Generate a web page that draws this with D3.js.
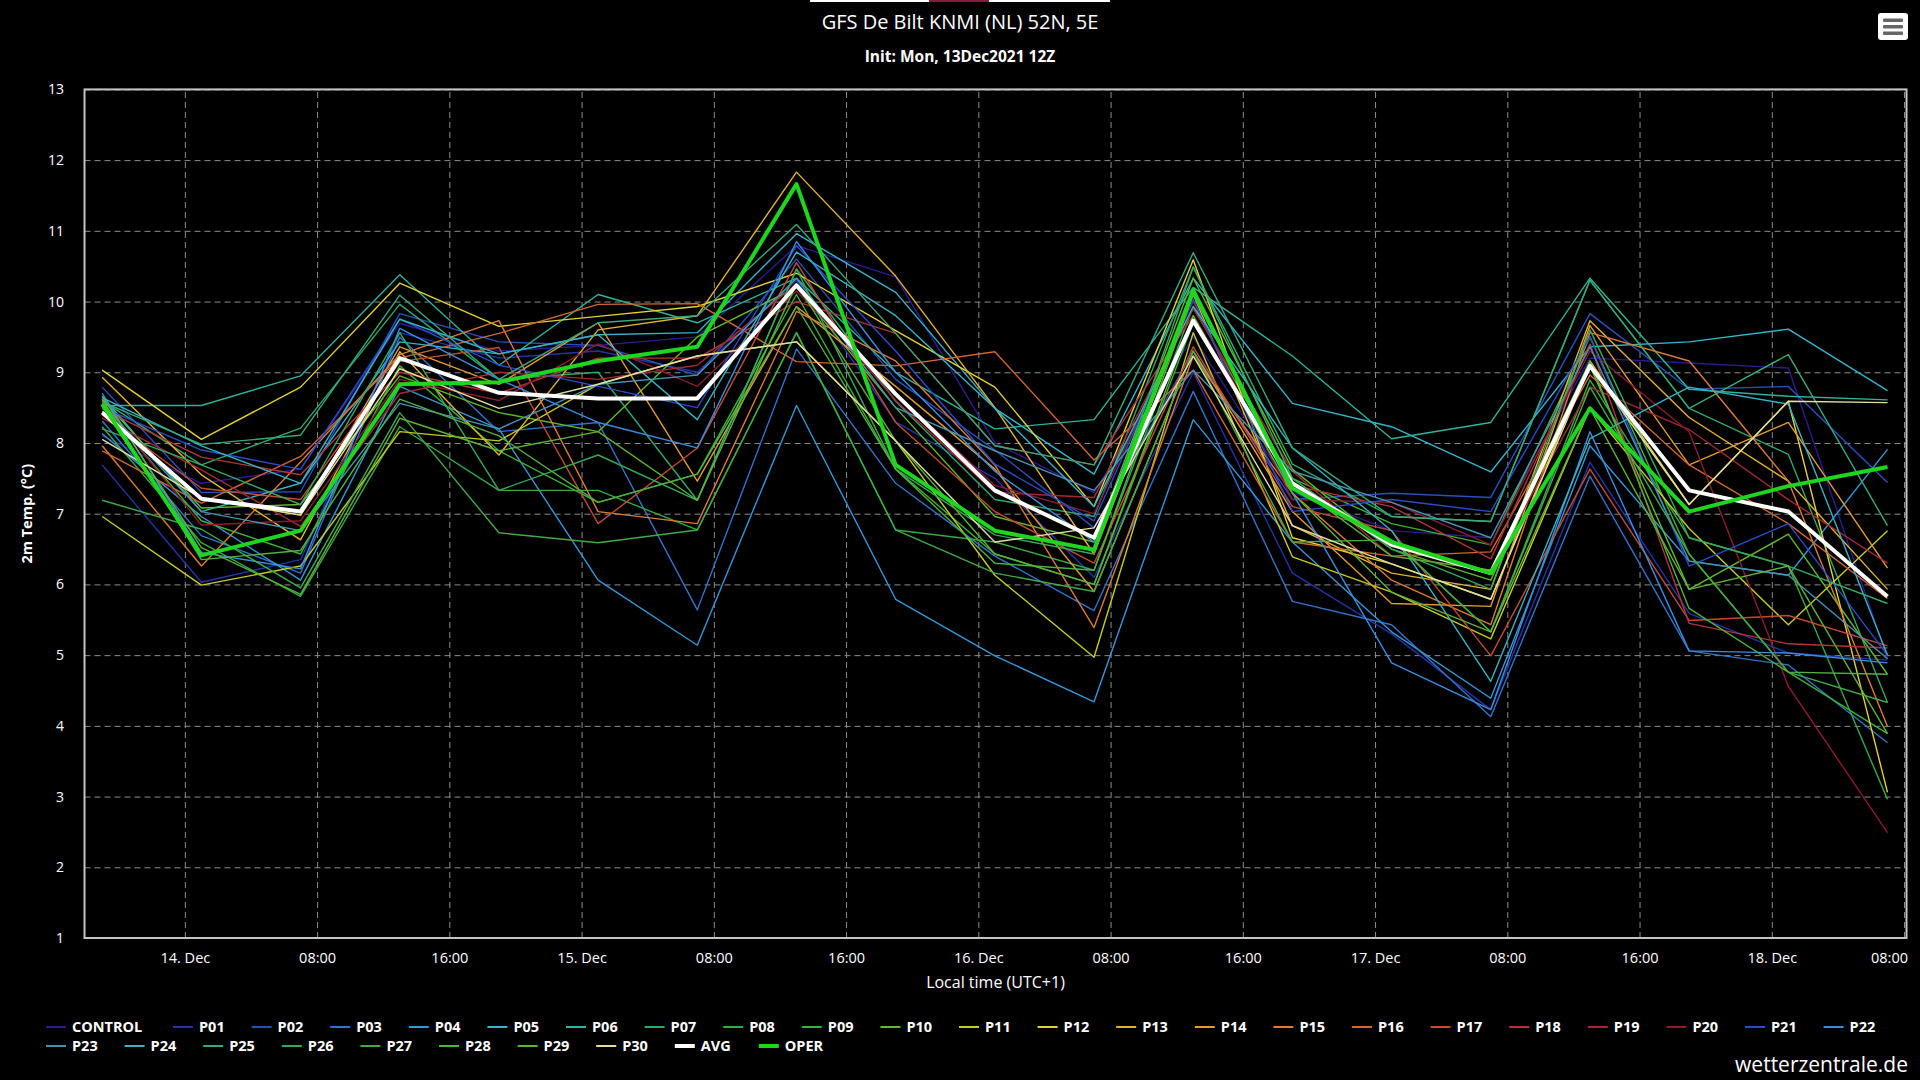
<!DOCTYPE html>
<html><head><meta charset="utf-8">
<script src="https://cdn.jsdelivr.net/npm/d3@7"></script>
<style>
html,body{margin:0;padding:0;background:#000;}
svg{display:block;}
text{font-family:"Open Sans","DejaVu Sans",sans-serif;fill:#fff;}
</style></head><body>
<svg id="chart" width="1920" height="1080"></svg>
<script>
// ---------- DATA ----------
const times = ["2021-12-13T19:00","2021-12-14T01:00","2021-12-14T07:00","2021-12-14T13:00","2021-12-14T19:00",
  "2021-12-15T01:00","2021-12-15T07:00","2021-12-15T13:00","2021-12-15T19:00","2021-12-16T01:00",
  "2021-12-16T07:00","2021-12-16T13:00","2021-12-16T19:00","2021-12-17T01:00","2021-12-17T07:00",
  "2021-12-17T13:00","2021-12-17T19:00","2021-12-18T01:00","2021-12-18T07:00"];
const xTicks = ["2021-12-14T00:00","2021-12-14T08:00","2021-12-14T16:00","2021-12-15T00:00","2021-12-15T08:00",
  "2021-12-15T16:00","2021-12-16T00:00","2021-12-16T08:00","2021-12-16T16:00","2021-12-17T00:00",
  "2021-12-17T08:00","2021-12-17T16:00","2021-12-18T00:00","2021-12-18T08:00"];
const yTicks = [1,2,3,4,5,6,7,8,9,10,11,12,13];

const CONTROL = [8.10,7.43,7.63,9.69,9.30,9.38,9.50,10.79,10.35,8.00,7.30,9.50,7.30,6.76,6.66,9.20,9.13,9.06,4.95];
const P01 = [7.69,6.03,6.35,9.56,9.20,9.30,9.00,10.30,8.30,7.50,6.10,9.00,6.16,5.30,4.23,7.73,5.59,5.03,4.93];
const P02 = [8.79,7.30,7.31,9.83,9.43,9.38,8.96,10.60,8.90,7.90,6.80,9.30,7.20,7.29,7.23,9.83,8.76,8.80,7.44];
const P03 = [8.31,6.69,6.16,9.50,8.16,8.29,5.64,9.33,7.43,6.40,5.63,8.73,5.76,5.43,4.13,7.53,5.06,4.86,3.76];
const P04 = [8.13,6.96,6.06,8.80,8.20,6.06,5.14,8.53,5.79,4.99,4.34,8.33,6.60,5.33,4.39,7.96,6.33,6.13,7.91];
const P05 = [8.66,7.03,7.43,9.43,9.26,9.53,9.56,10.96,10.13,8.49,7.56,10.33,8.56,8.23,7.59,9.36,9.43,9.61,8.74];
const P06 = [8.53,8.53,8.95,10.38,9.10,10.10,9.70,10.33,9.00,8.20,8.33,10.20,9.23,8.06,8.29,10.33,8.76,8.66,8.61];
const P07 = [8.60,7.69,8.21,9.96,8.90,9.00,7.19,10.46,8.59,7.20,6.96,10.49,7.70,6.96,6.89,10.30,8.49,7.84,4.33];
const P08 = [8.23,6.59,5.83,8.23,7.33,7.33,6.77,9.56,6.77,6.60,6.20,9.93,7.43,6.63,5.33,8.89,6.66,6.26,2.96];
const P09 = [8.55,6.90,6.43,9.09,7.89,7.16,7.56,10.10,7.63,6.43,6.00,9.70,7.50,6.86,6.56,9.50,6.43,4.76,3.89];
const P10 = [8.62,7.08,7.13,8.95,8.43,8.16,9.50,10.20,8.50,6.96,6.60,10.33,7.63,6.50,6.06,9.09,5.93,6.71,4.73];
const P11 = [6.96,5.99,6.26,8.16,8.03,8.83,9.23,9.43,8.03,6.13,4.97,9.56,6.39,5.89,5.23,8.49,6.79,5.43,6.76];
const P12 = [9.03,8.05,8.79,10.26,9.65,9.79,9.93,10.40,9.59,8.79,7.10,10.59,6.66,6.29,5.79,9.16,7.13,8.59,3.06];
const P13 = [8.93,7.55,6.63,9.29,7.83,9.60,9.80,11.83,10.36,8.50,6.43,10.10,6.83,6.16,5.93,9.73,8.36,7.46,5.93];
const P14 = [8.45,7.22,6.98,9.36,8.83,9.70,7.46,9.93,8.80,7.63,5.90,9.30,7.03,5.73,5.69,9.66,7.69,8.29,6.23];
const P15 = [7.96,6.26,7.73,9.25,9.73,7.03,6.86,9.86,9.16,7.69,5.39,9.23,7.29,6.06,5.43,9.56,9.16,7.46,3.99];
const P16 = [7.89,7.15,7.81,9.20,9.55,9.96,9.97,9.15,9.09,9.29,7.76,9.03,6.60,6.40,6.46,8.96,7.69,6.86,5.80];
const P17 = [8.40,7.36,7.20,9.15,9.35,6.86,7.93,10.55,8.29,7.03,6.30,9.36,7.10,6.76,4.99,7.63,5.49,5.56,5.13];
const P18 = [8.48,7.80,7.55,9.00,8.70,9.20,9.20,10.00,9.55,7.96,7.69,9.80,7.40,7.10,6.36,9.40,5.45,5.16,5.10];
const P19 = [8.35,7.62,6.82,8.70,9.00,8.90,9.10,10.25,8.60,7.30,7.23,9.90,7.60,6.40,6.20,8.79,8.19,7.20,6.30];
const P20 = [8.58,6.84,6.90,8.90,8.60,9.40,8.80,10.15,8.70,7.40,7.00,10.00,7.20,7.16,6.56,9.30,8.16,4.56,2.49];
const P21 = [8.50,7.90,7.63,9.75,9.10,8.80,8.50,10.79,9.30,7.70,6.90,10.03,7.03,7.20,7.03,9.50,6.26,6.86,5.00];
const P22 = [8.70,6.45,6.22,9.62,8.90,8.29,7.93,10.85,9.00,7.60,6.60,10.16,7.29,4.89,4.23,8.16,5.06,5.03,4.89];
const P23 = [8.56,7.03,6.76,8.56,8.20,8.83,8.96,10.33,8.50,7.89,7.33,9.03,7.60,7.16,6.66,9.36,6.33,6.13,4.95];
const P24 = [8.64,7.96,7.43,9.75,9.26,9.53,8.33,10.70,9.80,8.49,7.10,9.93,7.93,6.76,4.63,8.06,8.79,8.55,5.00];
const P25 = [8.58,7.98,8.11,10.09,8.90,9.70,9.80,11.09,9.55,7.96,7.69,10.69,7.93,6.96,6.89,10.30,8.49,9.25,6.83];
const P26 = [8.20,7.69,7.13,9.56,7.33,7.83,7.19,10.46,7.63,6.70,6.43,10.49,7.50,6.50,5.93,9.60,6.66,6.26,5.73];
const P27 = [7.19,6.78,5.95,8.43,6.73,6.59,6.77,9.56,6.77,6.16,5.90,9.30,6.60,6.63,5.33,8.79,6.43,4.76,4.33];
const P28 = [8.62,6.35,6.48,8.62,8.10,7.16,7.56,9.93,7.63,6.30,6.20,10.10,7.43,6.40,6.20,9.16,5.66,4.76,4.73];
const P29 = [8.66,6.52,5.86,8.35,7.89,8.16,7.19,10.25,8.03,6.43,6.00,9.80,7.29,5.89,5.33,8.49,5.93,6.26,3.89];
const P30 = [8.05,7.22,6.98,9.05,8.49,8.83,9.23,9.43,8.03,6.60,6.80,9.23,6.83,6.29,5.79,9.09,7.13,8.59,8.57];
const AVG = [8.43,7.21,7.03,9.20,8.71,8.63,8.63,10.23,8.69,7.33,6.66,9.73,7.43,6.56,6.16,9.09,7.33,7.03,5.83];
const OPER = [8.55,6.41,6.76,8.83,8.86,9.16,9.36,11.66,7.69,6.76,6.49,10.16,7.36,6.60,6.16,8.49,7.03,7.39,7.66];

const memberNames = ["CONTROL","P01","P02","P03","P04","P05","P06","P07","P08","P09","P10","P11","P12","P13","P14","P15",
  "P16","P17","P18","P19","P20","P21","P22","P23","P24","P25","P26","P27","P28","P29","P30"];
const memberValues = [CONTROL,P01,P02,P03,P04,P05,P06,P07,P08,P09,P10,P11,P12,P13,P14,P15,
  P16,P17,P18,P19,P20,P21,P22,P23,P24,P25,P26,P27,P28,P29,P30];

// ---------- STYLE ----------
const memberColors = ["#2d1c90","#2234a6","#2a50bc","#3274ca","#3597d6","#36b4cc","#2fb39a","#30a868","#35aa45","#3db232",
  "#62ba28","#c8cc22","#e2d232","#e2b232","#e29c32","#dc7c32","#d06632","#c24c32","#b23636","#a42a32","#8a1c30",
  "#2a4cc8","#3a8ee0","#4a92b4","#38b2c2","#38aa7a","#36aa5a","#42aa48","#52b240","#5eb238","#e2dea2"];

const W = 1920, H = 1080;
const plot = {left: 84.5, right: 1906.5, top: 89.4, bottom: 938};
const parse = d3.utcParse("%Y-%m-%dT%H:%M");
const dates = times.map(parse);

const svg = d3.select("#chart");
svg.append("rect").attr("width", W).attr("height", H).attr("fill", "#000");

const x = d3.scaleUtc().domain(d3.extent(dates)).range([102.2, 1887.5]);
const y = d3.scaleLinear().domain([1, 13]).range([plot.bottom, plot.top]);

// grid + axes
const yAxis = d3.axisLeft(y).tickValues(yTicks).tickFormat(d3.format("d"))
  .tickSize(-(plot.right - plot.left)).tickPadding(20.5);
const gy = svg.append("g").attr("transform", `translate(${plot.left},0)`).call(yAxis);
gy.select(".domain").remove();
gy.selectAll(".tick line").attr("stroke", "#8c8c8c").attr("stroke-dasharray", "6,4").attr("stroke-width", 1);
gy.selectAll(".tick text").attr("fill", "#fff").style("font-size", "14px");

const fmtTick = d => (d.getUTCHours() === 0 ? d3.utcFormat("%-d. %b")(d) : d3.utcFormat("%H:%M")(d));
const xAxis = d3.axisBottom(x).tickValues(xTicks.map(parse)).tickFormat(fmtTick)
  .tickSize(-(plot.bottom - plot.top)).tickPadding(14.5);
const gx = svg.append("g").attr("transform", `translate(0,${plot.bottom})`).call(xAxis);
gx.select(".domain").remove();
gx.selectAll(".tick line").attr("stroke", "#8c8c8c").attr("stroke-dasharray", "6,4").attr("stroke-width", 1);
gx.selectAll(".tick text").attr("fill", "#fff").style("font-size", "14.5px");
// keep edge labels inside the chart
gx.selectAll(".tick").each(function() {
  const t = d3.select(this).select("text").node();
  const tr = this.transform.baseVal.consolidate().matrix.e;
  const w = t.getComputedTextLength();
  if (tr + w / 2 > 1908) d3.select(t).attr("x", 1908 - w / 2 - tr);
});

// plot border
svg.append("rect").attr("x", plot.left).attr("y", plot.top)
  .attr("width", plot.right - plot.left).attr("height", plot.bottom - plot.top)
  .attr("fill", "none").attr("stroke", "#c4c4c4").attr("stroke-width", 2);

// lines
const line = d3.line().x((d, i) => x(dates[i])).y(d => y(d));
const gl = svg.append("g");
memberValues.forEach((vals, k) => {
  gl.append("path").datum(vals).attr("d", line).attr("fill", "none")
    .attr("stroke", memberColors[k]).attr("stroke-width", 1.4).attr("stroke-linejoin", "round");
});
gl.append("path").datum(AVG).attr("d", line).attr("fill", "none")
  .attr("stroke", "#ffffff").attr("stroke-width", 4).attr("stroke-linejoin", "round");
gl.append("path").datum(OPER).attr("d", line).attr("fill", "none")
  .attr("stroke", "#1fd61f").attr("stroke-width", 4).attr("stroke-linejoin", "round");

// titles
svg.append("text").attr("x", 960).attr("y", 29).attr("text-anchor", "middle")
  .style("font-size", "20px").text("GFS De Bilt KNMI (NL) 52N, 5E");
svg.append("text").attr("x", 960).attr("y", 62).attr("text-anchor", "middle")
  .style("font-size", "15.5px").style("font-weight", "bold").text("Init: Mon, 13Dec2021 12Z");
svg.append("text").attr("transform", `translate(32,${(plot.top + plot.bottom) / 2}) rotate(-90)`)
  .attr("text-anchor", "middle").style("font-size", "14.5px").style("font-weight", "bold").text("2m Temp. (°C)");
svg.append("text").attr("x", (plot.left + plot.right) / 2).attr("y", 988).attr("text-anchor", "middle")
  .style("font-size", "16px").text("Local time (UTC+1)");

// legend
const legendItems = memberNames.map((n, k) => ({name: n, color: memberColors[k], w: 2}))
  .concat([{name: "AVG", color: "#ffffff", w: 4}, {name: "OPER", color: "#1fd61f", w: 4}]);
const rows = [legendItems.slice(0, 23), legendItems.slice(23)];
const rowY = [1027, 1046];
const gLeg = svg.append("g");
rows.forEach((row, r) => {
  let cx = 46;
  row.forEach((it, j) => {
    const g = gLeg.append("g").attr("transform", `translate(${cx},${rowY[r]})`);
    g.append("line").attr("x1", 0).attr("x2", 20).attr("y1", 0).attr("y2", 0)
      .attr("stroke", it.color).attr("stroke-width", it.w);
    g.append("text").attr("x", 26).attr("y", 5).style("font-size", "14.5px").style("font-weight", "bold").text(it.name);
    cx += it.name === "CONTROL" ? 127 : (it.name === "AVG" ? 84 : 78.6);
  });
});

svg.append("text").attr("x", 1908).attr("y", 1072).attr("text-anchor", "end")
  .style("font-size", "21px").text("wetterzentrale.de");

// top bar and menu icon
svg.append("rect").attr("x", 810).attr("y", 0).attr("width", 300).attr("height", 2).attr("fill", "#ffffff");
svg.append("rect").attr("x", 929).attr("y", 0).attr("width", 60).attr("height", 2).attr("fill", "#7d1f3f");
svg.append("rect").attr("x", 1878).attr("y", 13).attr("width", 30).attr("height", 27).attr("rx", 3).attr("fill", "#ffffff");
[18.5, 25, 31.5].forEach(yy => svg.append("rect").attr("x", 1883).attr("y", yy).attr("width", 20).attr("height", 3.5)
  .attr("rx", 1).attr("fill", "#666"));
</script>
</body></html>
